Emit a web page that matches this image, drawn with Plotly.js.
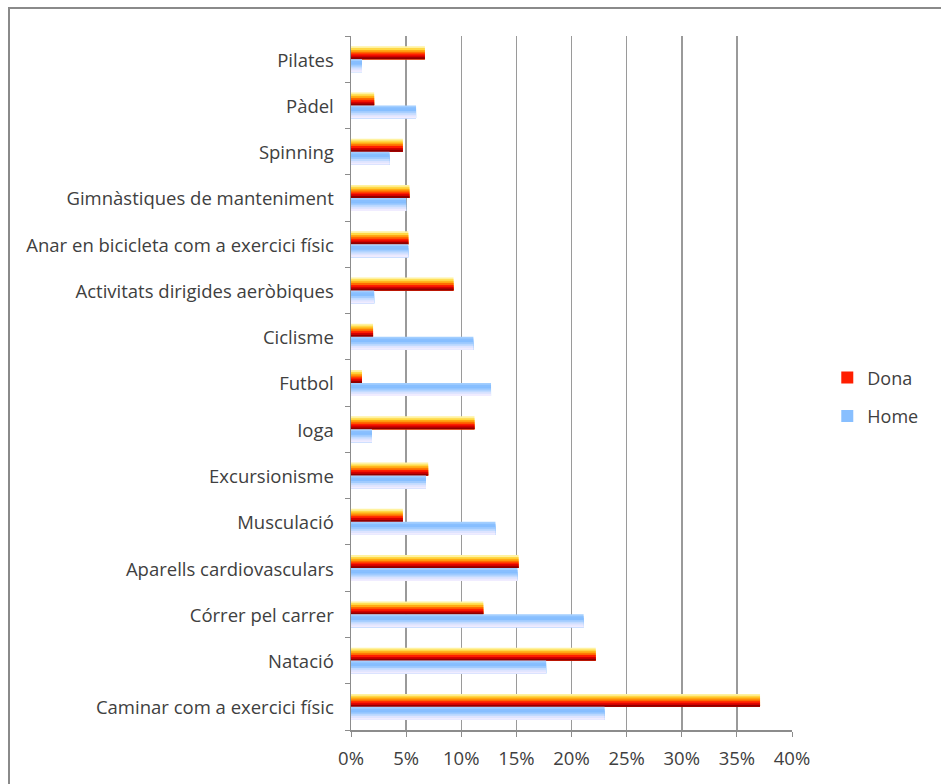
<!DOCTYPE html>
<html>
<head>
<meta charset="utf-8">
<script src="https://cdn.plot.ly/plotly-3.0.1.min.js"></script>
<style>
  html, body { margin: 0; padding: 0; background: #fff; }
  #chart { position: absolute; left: 0; top: 0; width: 941px; height: 784px; }
  #frame {
    position: absolute; left: 8px; top: 7px; width: 1000px; height: 1000px;
    border-left: 2px solid #8a8a8a; border-top: 2px solid #8a8a8a;
    pointer-events: none;
  }
</style>
</head>
<body>
<div id="chart"></div>
<div id="frame"></div>
<script>
// Activities, bottom to top as they sit on the axis
const categories = [
  "Caminar com a exercici físic",
  "Natació",
  "Córrer pel carrer",
  "Aparells cardiovasculars",
  "Musculació",
  "Excursionisme",
  "Ioga",
  "Futbol",
  "Ciclisme",
  "Activitats dirigides aeròbiques",
  "Anar en bicicleta com a exercici físic",
  "Gimnàstiques de manteniment",
  "Spinning",
  "Pàdel",
  "Pilates"
];

// Share of practitioners (%)
const dona = [37.1, 22.2, 12.0, 15.2, 4.7, 7.0, 11.2, 1.0, 2.0, 9.3, 5.2, 5.3, 4.7, 2.1, 6.7];
const home = [23.0, 17.7, 21.1, 15.1, 13.1, 6.8, 1.9, 12.7, 11.1, 2.1, 5.2, 5.0, 3.5, 5.9, 1.0];

const xTicks = [0, 5, 10, 15, 20, 25, 30, 35, 40];

// Each bar is a stack of layers that all reach the bar's bottom edge and get
// shorter from the top, so the visible bands read as a vertical gradient.
const donaShades = ['#FFF2A0', '#FFD845', '#FFA812', '#FF6A00', '#FF1E00', '#D40000', '#8E0000'];
const homeShades = ['#A2CEFF', '#88BFFF', '#86BEFF', '#A0CBFF', '#C2DBFF', '#DEE4FF', '#F0ECFF'];

const barW = 0.28;
const traces = [];

function addSeries(values, name, shades, top, legendIdx) {
  const step = barW / shades.length;
  const bottom = top - barW;
  shades.forEach((c, i) => {
    const h = barW - i * step;
    traces.push({
      type: 'bar',
      orientation: 'h',
      y: categories,
      x: values,
      name: name,
      legendgroup: name,
      showlegend: i === legendIdx,
      marker: { color: c, line: { width: 0 } },
      offset: bottom,
      width: h,
      hovertemplate: '%{y}: %{x:.1f}%<extra>' + name + '</extra>'
    });
  });
}

addSeries(dona, 'Dona', donaShades, barW, 4);
addSeries(home, 'Home', homeShades, 0, 1);

const font = { family: '"Open Sans", sans-serif', size: 18.5, color: '#404040' };
const legendFont = { family: '"Open Sans", sans-serif', size: 18, color: '#404040' };

const layout = {
  width: 941,
  height: 784,
  margin: { l: 351, r: 149, t: 36, b: 54 },
  paper_bgcolor: '#ffffff',
  plot_bgcolor: '#ffffff',
  barmode: 'overlay',
  font: font,
  xaxis: {
    range: [0, 40],
    tickvals: xTicks,
    ticktext: xTicks.map(v => v + '%'),
    showgrid: true,
    gridcolor: '#9a9a9a',
    gridwidth: 1.5,
    zeroline: false,
    showline: true,
    linecolor: '#8c8c8c',
    linewidth: 1.5,
    ticks: 'outside',
    ticklen: 5,
    tickcolor: '#8c8c8c',
    tickfont: font,
    ticklabelstandoff: 6,
    fixedrange: true
  },
  yaxis: {
    type: 'category',
    categoryorder: 'array',
    categoryarray: categories,
    range: [-0.5, categories.length - 0.5],
    tickson: 'boundaries',
    ticks: 'outside',
    ticklen: 5,
    tickcolor: '#8c8c8c',
    showline: true,
    linecolor: '#8c8c8c',
    linewidth: 1.5,
    showgrid: false,
    zeroline: false,
    tickfont: font,
    ticklabelstandoff: 12,
    ticklabelshift: 1,
    fixedrange: true
  },
  legend: {
    x: 1.08,
    xanchor: 'left',
    y: 0.534,
    yanchor: 'top',
    traceorder: 'grouped',
    tracegroupgap: 12,
    font: legendFont,
    bgcolor: 'rgba(0,0,0,0)'
  },
  showlegend: true
};

Plotly.newPlot('chart', traces, layout, { displayModeBar: false, staticPlot: true });
</script>
</body>
</html>
